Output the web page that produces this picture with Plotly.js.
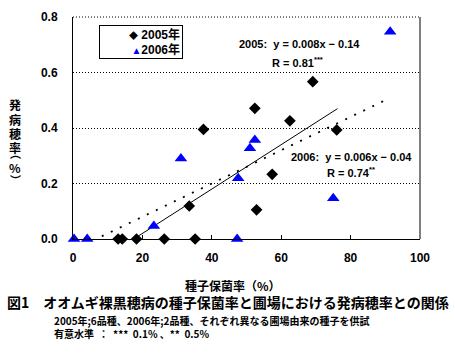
<!DOCTYPE html>
<html>
<head>
<meta charset="utf-8">
<script src="https://cdn.plot.ly/plotly-3.0.1.min.js"></script>
<style>html,body{margin:0;padding:0;background:#fff;}#chart{width:455px;height:354px;}</style>
</head>
<body>
<div id="chart"></div>
<script>
// Data
const x2005 = [69.1, 52.4, 62.5, 76.0, 37.6, 33.5, 57.4, 52.9, 13.0, 14.2, 18.3, 26.3, 35.2];
const y2005 = [0.567, 0.471, 0.426, 0.393, 0.395, 0.119, 0.233, 0.105, 0, 0, 0, 0, 0];
const x2006 = [91.4, 31.1, 52.4, 51.0, 47.6, 75.0, 47.3, 23.3, 0.3, 4.1];
const y2006 = [0.747, 0.290, 0.357, 0.327, 0.219, 0.147, 0, 0.047, 0, 0];
const seriesNames = ['2005年', '2006年'];
const seriesColors = ['#000000', '#0000FF'];
// Regression coefficients printed on the chart and the x-span of each fitted line
const fit2005 = {slope: 0.008, intercept: -0.14, xs: [17.5, 76.2]};
const fit2006 = {slope: 0.006, intercept: -0.04, xs: [8.3, 91.4]};
const xTicks = [0, 20, 40, 60, 80, 100];
const yTicks = [0, 0.2, 0.4, 0.6, 0.8];

const jp = '"Noto Sans CJK JP", "Liberation Sans", sans-serif';
const num = '"Liberation Sans", Arial, "Noto Sans CJK JP", sans-serif';
const NB = '\u00a0';

const traces = [
  {x: fit2005.xs, y: fit2005.xs.map(v => fit2005.slope * v + fit2005.intercept), mode: 'lines',
   line: {color: '#000', width: 1}, showlegend: false, hoverinfo: 'skip'},
  {x: fit2006.xs, y: fit2006.xs.map(v => fit2006.slope * v + fit2006.intercept), mode: 'lines',
   line: {color: '#000', width: 1.8, dash: '2px,8px'}, showlegend: false, hoverinfo: 'skip'},
  {x: x2005, y: y2005, mode: 'markers', name: seriesNames[0], cliponaxis: false, showlegend: false,
   marker: {symbol: 'diamond', size: 9, color: seriesColors[0]}},
  {x: x2006, y: y2006, mode: 'markers', name: seriesNames[1], cliponaxis: false, showlegend: false,
   marker: {symbol: 'triangle-up', size: 11, color: seriesColors[1]}}
];

const ann = [];
function add(text, x, y, size, opts) {
  ann.push(Object.assign({text: text, x: x, y: y, xref: 'paper', yref: 'paper', showarrow: false,
    xanchor: 'center', yanchor: 'middle', font: {family: jp, size: size, color: '#000', weight: 'bold'}}, opts || {}));
}
// compact boxed legend
ann.push({
  text: '<span style="color:' + seriesColors[0] + ';font-size:9px">◆</span>' + NB + seriesNames[0] + '<br>' +
        '<span style="color:' + seriesColors[1] + ';font-size:10px">▲</span>' + seriesNames[1],
  x: (141 - 73) / 347, y: (239 - 42) / 222, xref: 'paper', yref: 'paper', showarrow: false,
  xanchor: 'center', yanchor: 'middle', align: 'right', width: 78, height: 28, borderpad: 2,
  bordercolor: '#000', borderwidth: 1, bgcolor: '#fff',
  font: {family: num, size: 12, color: '#000', weight: 'bold'}
});
// vertical y-axis title, stacked characters (vertical-form parentheses)
const yChars = ['発', '病', '穂', '率', '︵', '%', '︶'];
const yPix = [105, 119, 133, 147, 153, 167, 180];
const ySize = [12, 12, 12, 12, 11, 12, 11];
yChars.forEach((c, i) => add(c, (15 - 73) / 347, (239 - yPix[i]) / 222, ySize[i]));
add('種子保菌率（%）', (233 - 73) / 347, -(285 - 239) / 222, 12);
add('図1　オオムギ裸黒穂病の種子保菌率と圃場における発病穂率との関係', (5 - 73) / 347, -(302 - 239) / 222, 14, {xanchor: 'left'});
add('2005年;6品種、2006年;2品種、それぞれ異なる圃場由来の種子を供試', (52 - 73) / 347, -(320 - 239) / 222, 10, {xanchor: 'left'});
add('有意水準' + NB + NB + '：' + NB + NB + '***' + NB + NB + '0.1%' + NB + '、**' + NB + NB + '0.5%',
    (52 - 73) / 347, -(333 - 239) / 222, 10, {xanchor: 'left'});
// regression equations in data coordinates
function addData(text, x, y) {
  ann.push({text: text, x: x, y: y, xref: 'x', yref: 'y', showarrow: false, xanchor: 'center', yanchor: 'middle',
    font: {family: num, size: 11, color: '#000', weight: 'bold'}});
}
addData('2005:' + NB + ' y = 0.008x − 0.14', 65.4, 0.703);
addData('R = 0.81<sup>***</sup>', 64.8, 0.638);
addData('2006:' + NB + ' y = 0.006x − 0.04', 80.4, 0.295);
addData('R = 0.74<sup>**</sup>', 80.1, 0.241);

const layout = {
  width: 455, height: 354,
  margin: {l: 73, r: 35, t: 17, b: 115},
  paper_bgcolor: '#fff', plot_bgcolor: '#fff',
  showlegend: false,
  xaxis: {range: [0, 100], tickvals: xTicks, ticktext: xTicks.map(String), showgrid: false, zeroline: false,
    showline: true, linecolor: '#000', linewidth: 1, ticks: 'inside', ticklen: 4, tickcolor: '#000',
    ticklabelstandoff: 8, fixedrange: true,
    tickfont: {family: num, size: 12, color: '#000', weight: 'bold'}},
  yaxis: {range: [0, 0.8], tickvals: yTicks, ticktext: yTicks.map(v => v.toFixed(1)), showgrid: true,
    gridcolor: '#000', gridwidth: 1, griddash: '1px,2px', zeroline: false,
    showline: true, linecolor: '#000', linewidth: 1, ticks: '', ticklabelstandoff: 12, fixedrange: true,
    tickfont: {family: num, size: 12, color: '#000', weight: 'bold'}},
  shapes: [
    {type: 'line', xref: 'paper', yref: 'paper', x0: 1, x1: 1, y0: 0, y1: 1, line: {color: '#000', width: 1}},
    {type: 'line', xref: 'paper', yref: 'paper', x0: 0, x1: 1, y0: 1, y1: 1, line: {color: '#000', width: 1, dash: '1px,2px'}}
  ],
  annotations: ann
};

Plotly.newPlot('chart', traces, layout, {displayModeBar: false, staticPlot: true});
</script>
</body>
</html>
